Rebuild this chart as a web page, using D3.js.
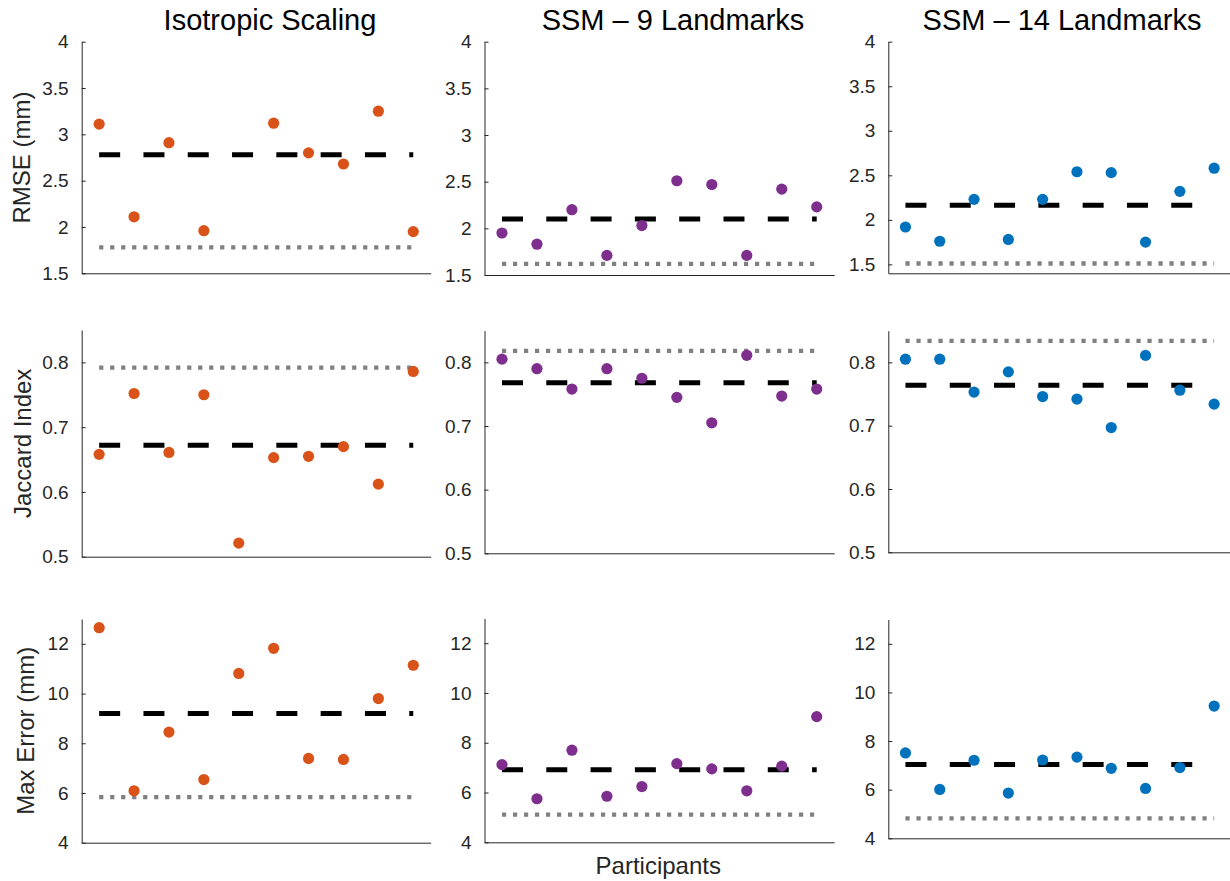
<!DOCTYPE html>
<html>
<head>
<meta charset="utf-8">
<script src="https://cdn.jsdelivr.net/npm/d3@7"></script>
<style>
  body { margin: 0; background: #fff; }
  svg { display: block; font-family: "Liberation Sans", Arial, Helvetica, sans-serif; }
</style>
</head>
<body>
<svg id="chart" width="1230" height="881"></svg>
<script>
// ── Data ─────────────────────────────────────────────────────────────────────
const participants = [1, 2, 3, 4, 5, 6, 7, 8, 9, 10];
const methods = ["Isotropic Scaling", "SSM \u2013 9 Landmarks", "SSM \u2013 14 Landmarks"];

// RMSE (mm) — participant 5 of isotropic scaling lies above the axis limit
const rmseIso   = [3.11, 2.11, 2.91, 1.96, null, 3.12, 2.80, 2.68, 3.25, 1.95];
const rmseSsm9  = [1.95, 1.83, 2.20, 1.71, 2.03, 2.51, 2.47, 1.71, 2.42, 2.23];
const rmseSsm14 = [1.92, 1.76, 2.23, 1.78, 2.23, 2.54, 2.53, 1.75, 2.32, 2.58];

// Jaccard index
const jacIso   = [0.658, 0.752, 0.661, 0.750, 0.521, 0.653, 0.655, 0.670, 0.612, 0.786];
const jacSsm9  = [0.805, 0.790, 0.758, 0.790, 0.775, 0.745, 0.705, 0.811, 0.747, 0.758];
const jacSsm14 = [0.805, 0.805, 0.753, 0.785, 0.746, 0.742, 0.697, 0.811, 0.756, 0.734];

// Max error (mm)
const maxIso   = [12.65, 6.09, 8.45, 6.54, 10.81, 11.82, 7.39, 7.35, 9.80, 11.14];
const maxSsm9  = [7.12, 5.75, 7.70, 5.85, 6.24, 7.16, 6.95, 6.07, 7.06, 9.05];
const maxSsm14 = [7.51, 6.01, 7.21, 5.86, 7.22, 7.34, 6.88, 6.05, 6.91, 9.44];

// reference levels per method: black dashed and grey dotted
const rmseDashed = [2.78, 2.10, 2.165];
const rmseDotted = [1.78, 1.62, 1.51];
const jacDashed  = [0.672, 0.768, 0.764];
const jacDotted  = [0.792, 0.818, 0.834];
const maxDashed  = [9.20, 6.91, 7.04];
const maxDotted  = [5.83, 5.11, 4.82];

const rmseTicks = [1.5, 2, 2.5, 3, 3.5, 4];
const jacTicks  = [0.5, 0.6, 0.7, 0.8];
const maxTicks  = [4, 6, 8, 10, 12];

const rowLabels = ["RMSE (mm)", "Jaccard Index", "Max Error (mm)"];

// ── Layout / style ───────────────────────────────────────────────────────────
const methodColors = ["#D95319", "#7E2F8E", "#0072BD"];
const AXIS = "#262626";

const rows = [
    { series: [rmseIso, rmseSsm9, rmseSsm14], dashed: rmseDashed, dotted: rmseDotted, ticks: rmseTicks,
      yMin: [1.5, 1.5, 1.4], yMax: 4 },
    { series: [jacIso, jacSsm9, jacSsm14], dashed: jacDashed, dotted: jacDotted, ticks: jacTicks,
      yMin: [0.5, 0.5, 0.5], yMax: 0.85 },
    { series: [maxIso, maxSsm9, maxSsm14], dashed: maxDashed, dotted: maxDotted, ticks: maxTicks,
      yMin: [4, 4, 4], yMax: 13 },
];

const colLeft  = [81.7, 484.5, 888.3];
const colRight = [430.7, 834.2, 1231.3];
const panelTop    = [[41.7, 41.7, 41.7], [330, 330.5, 330.7], [619, 618.3, 619.5]];
const panelBottom = [[273.3, 275, 273.3], [556.7, 553.3, 552.3], [842.7, 842.3, 838.3]];
const titleX  = [270, 673, 1062];
const ylabelX = [29.5, 30.5, 34];

const svg = d3.select("#chart");

// ── Panels ───────────────────────────────────────────────────────────────────
rows.forEach((row, r) => {
    methods.forEach((m, c) => {
        const g = svg.append("g");
        const x = d3.scaleLinear().domain([0.5, 10.5]).range([colLeft[c], colRight[c]]);
        const y = d3.scaleLinear().domain([row.yMin[c], row.yMax])
            .range([panelBottom[r][c], panelTop[r][c]]);

        // y axis, ticks pointing inward
        const ya = g.append("g").attr("transform", `translate(${colLeft[c]},0)`)
            .call(d3.axisLeft(y).tickValues(row.ticks).tickSizeInner(-4).tickSizeOuter(0)
                .tickPadding(13).tickFormat(d => String(d)))
            .attr("font-family", null).attr("font-size", 19);
        ya.select(".domain").attr("stroke", AXIS);
        ya.selectAll(".tick line").attr("stroke", AXIS);
        ya.selectAll(".tick text").attr("fill", AXIS);

        // x axis: bare baseline
        const xa = g.append("g").attr("transform", `translate(0,${panelBottom[r][c]})`)
            .call(d3.axisBottom(x).tickValues([]).tickSizeOuter(0));
        xa.select(".domain").attr("stroke", AXIS);

        const ends = [participants[0], participants[participants.length - 1]];
        const line = d3.line().x(d => x(d[0])).y(d => y(d[1]));

        g.append("path").datum(ends.map(p => [p, row.dotted[c]]))
            .attr("d", line).attr("fill", "none")
            .attr("stroke", "#808080").attr("stroke-width", 4.3)
            .attr("stroke-dasharray", "4.2 6.8");

        g.append("path").datum(ends.map(p => [p, row.dashed[c]]))
            .attr("d", line).attr("fill", "none")
            .attr("stroke", "#000").attr("stroke-width", 5)
            .attr("stroke-dasharray", "21 23.3");

        g.selectAll("circle")
            .data(participants.map((p, i) => [p, row.series[c][i]]).filter(d => d[1] !== null))
            .join("circle")
            .attr("cx", d => x(d[0]))
            .attr("cy", d => y(d[1]))
            .attr("r", 5.6)
            .attr("fill", methodColors[c]);
    });

    // row label
    const yc = (panelTop[r][0] + panelBottom[r][0]) / 2;
    svg.append("text")
        .attr("transform", `translate(${ylabelX[r]},${yc}) rotate(-90)`)
        .attr("text-anchor", "middle")
        .attr("font-size", 24).attr("fill", AXIS)
        .text(rowLabels[r]);
});

// column titles
methods.forEach((m, c) => {
    svg.append("text")
        .attr("x", titleX[c]).attr("y", 29.5)
        .attr("text-anchor", "middle")
        .attr("font-size", 29).attr("fill", "#000")
        .text(m);
});

svg.append("text")
    .attr("x", 658.3).attr("y", 874)
    .attr("text-anchor", "middle")
    .attr("font-size", 24).attr("fill", AXIS)
    .text("Participants");
</script>
</body>
</html>
